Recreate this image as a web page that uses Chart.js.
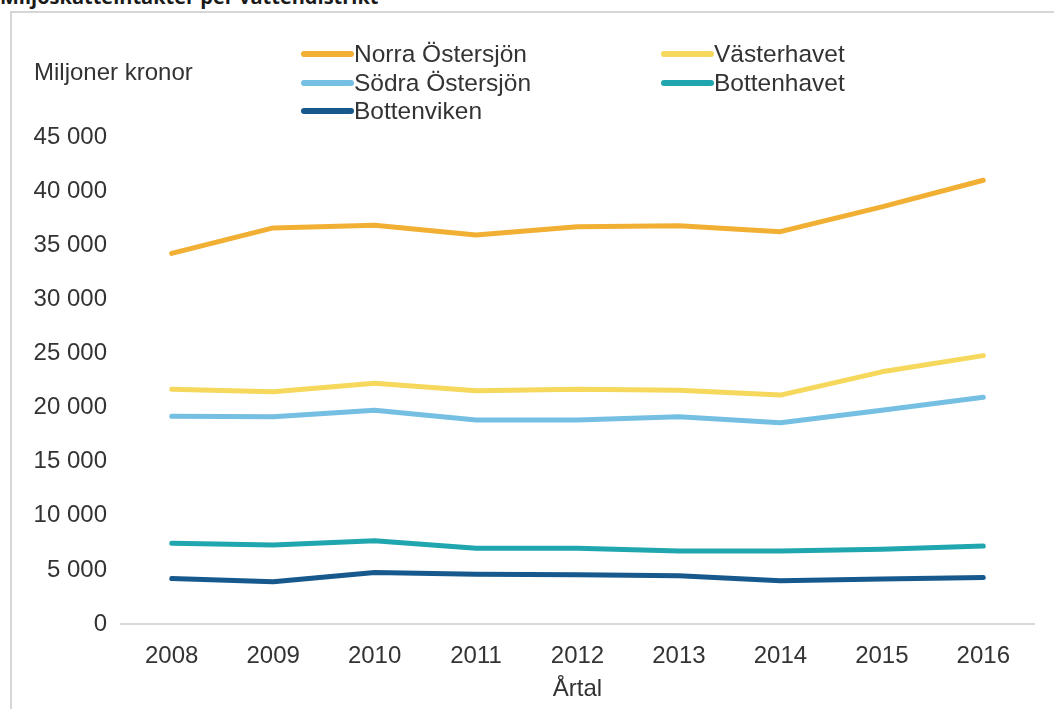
<!DOCTYPE html>
<html lang="sv">
<head>
<meta charset="utf-8">
<title>Miljöskatteintäkter per vattendistrikt</title>
<script src="https://cdn.jsdelivr.net/npm/chart.js@4/dist/chart.umd.min.js"></script>
<style>
  html, body { margin: 0; padding: 0; background: #ffffff; overflow: hidden; }
  #page { position: relative; width: 1054px; height: 709px; }
  #heading {
    position: absolute; left: 0; top: -17px;
    font: bold 20px "Open Sans", "Liberation Sans", sans-serif;
    color: #1a1a1a; white-space: nowrap;
  }
  #frame {
    position: absolute; left: 10px; top: 11px; width: 1100px; height: 760px;
    border-left: 2px solid #d6d6d6; border-top: 2px solid #d6d6d6;
  }
  #unit {
    position: absolute; left: 34px; top: 58px;
    font: 24px "Liberation Sans", Arial, sans-serif; color: #333333; white-space: nowrap;
  }
  #chart { position: absolute; left: 0; top: 0; }
</style>
</head>
<body>
<div id="page">
  <div id="heading">Miljöskatteintäkter per vattendistrikt</div>
  <div id="frame"></div>
  <canvas id="chart" width="1054" height="709"></canvas>
  <div id="unit">Miljoner kronor</div>
</div>
<script>
// Miljöskatteintäkter (miljoner kronor) per vattendistrikt och år
const years = ['2008', '2009', '2010', '2011', '2012', '2013', '2014', '2015', '2016'];
const norraOstersjon = [34250, 36600, 36850, 35950, 36700, 36800, 36250, 38550, 41000];
const vasterhavet    = [21700, 21450, 22250, 21550, 21700, 21600, 21150, 23300, 24800];
const sodraOstersjon = [19200, 19150, 19750, 18850, 18850, 19150, 18600, 19750, 20950];
const bottenhavet    = [7450, 7300, 7700, 7000, 7000, 6750, 6750, 6900, 7200];
const bottenviken    = [4200, 3900, 4750, 4600, 4550, 4450, 4000, 4150, 4300];
const yTicks = [0, 5000, 10000, 15000, 20000, 25000, 30000, 35000, 40000, 45000];

const FONT = '"Liberation Sans", Arial, sans-serif';
const TEXT = '#333333';

function series(label, data, color) {
  return {
    label, data,
    borderColor: color, backgroundColor: color,
    borderWidth: 5, pointRadius: 0, pointHoverRadius: 0,
    tension: 0, borderCapStyle: 'round', borderJoinStyle: 'round', fill: false
  };
}

// Legend drawn as a two-column grid above the plot
const gridLegend = {
  id: 'gridLegend',
  afterDraw(chart) {
    const ctx = chart.ctx;
    const cols = [304, 664];
    const rows = [54, 83, 111];
    const order = [[0, 0], [1, 0], [0, 1], [1, 1], [0, 2]];
    ctx.save();
    ctx.font = '24.5px ' + FONT;
    ctx.textBaseline = 'middle';
    ctx.textAlign = 'left';
    chart.data.datasets.forEach((ds, i) => {
      const [c, r] = order[i];
      const x = cols[c], y = rows[r];
      ctx.strokeStyle = ds.borderColor;
      ctx.lineWidth = 6;
      ctx.lineCap = 'round';
      ctx.beginPath();
      ctx.moveTo(x, y);
      ctx.lineTo(x + 47, y);
      ctx.stroke();
      ctx.fillStyle = TEXT;
      ctx.fillText(ds.label, x + 50, y + 1);
    });
    ctx.restore();
  }
};

new Chart(document.getElementById('chart'), {
  type: 'line',
  data: {
    labels: years,
    datasets: [
      series('Norra Östersjön', norraOstersjon, '#f1af33'),
      series('Västerhavet', vasterhavet, '#f5d85c'),
      series('Södra Östersjön', sodraOstersjon, '#74bfe2'),
      series('Bottenhavet', bottenhavet, '#1fa6ae'),
      series('Bottenviken', bottenviken, '#17598c')
    ]
  },
  options: {
    responsive: false,
    animation: false,
    layout: { padding: { top: 137, right: 20, bottom: 0, left: 0 } },
    plugins: {
      legend: { display: false },
      title: { display: false },
      tooltip: { enabled: false }
    },
    scales: {
      x: {
        offset: true,
        grid: { display: false, drawTicks: false },
        border: { display: true, color: '#d9d9d9', width: 2 },
        ticks: { color: TEXT, font: { family: FONT, size: 24 }, padding: 18, maxRotation: 0 },
        title: { display: true, text: 'Årtal', color: TEXT, font: { family: FONT, size: 24 }, padding: { top: 0, bottom: 5 } },
        afterFit(scale) { scale.height = 85; }
      },
      y: {
        min: 0, max: 45000,
        grid: { display: false, drawTicks: false },
        border: { display: false },
        afterBuildTicks(scale) { scale.ticks = yTicks.map(v => ({ value: v })); },
        ticks: {
          color: TEXT, font: { family: FONT, size: 24 }, padding: 14,
          callback: v => String(v).replace(/\B(?=(\d{3})+(?!\d))/g, ' ')
        },
        afterFit(scale) { scale.width = 121; }
      }
    }
  },
  plugins: [gridLegend]
});
</script>
</body>
</html>
